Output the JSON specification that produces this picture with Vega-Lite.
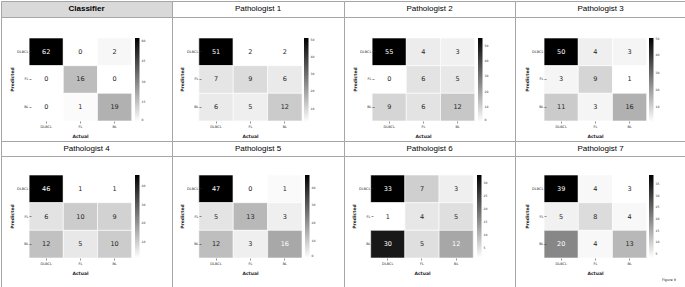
{
  "$schema": "https://vega.github.io/schema/vega-lite/v6.json",
  "padding": 0,
  "spacing": 0,
  "columns": 4,
  "bounds": "flush",
  "background": "white",
  "config": {
    "view": {"stroke": "#a6a6a6", "strokeWidth": 1},
    "concat": {"spacing": 0},
    "axis": {
      "labelFont": "DejaVu Sans", "labelFontSize": 3.5, "labelColor": "#262626",
      "titleFont": "DejaVu Sans", "titleFontSize": 4.5, "titleFontWeight": "bold", "titleColor": "#262626",
      "tickSize": 2, "tickColor": "#262626", "tickWidth": 0.5,
      "domain": false, "grid": false, "labelPadding": 1, "labelOverlap": false
    },
    "legend": {
      "orient": "none", "direction": "vertical", "gradientThickness": 4.5,
      "labelFont": "DejaVu Sans", "labelFontSize": 3, "labelColor": "#262626", "labelOffset": 2,
      "gradientStrokeWidth": 0, "labelOverlap": false
    }
  },
  "datasets": {
    "c0": [
      {"predicted": "DLBCL", "actual": "DLBCL", "count": 62}, {"predicted": "DLBCL", "actual": "FL", "count": 0}, {"predicted": "DLBCL", "actual": "BL", "count": 2},
      {"predicted": "FL", "actual": "DLBCL", "count": 0}, {"predicted": "FL", "actual": "FL", "count": 16}, {"predicted": "FL", "actual": "BL", "count": 0},
      {"predicted": "BL", "actual": "DLBCL", "count": 0}, {"predicted": "BL", "actual": "FL", "count": 1}, {"predicted": "BL", "actual": "BL", "count": 19}
    ],
    "c1": [
      {"predicted": "DLBCL", "actual": "DLBCL", "count": 51}, {"predicted": "DLBCL", "actual": "FL", "count": 2}, {"predicted": "DLBCL", "actual": "BL", "count": 2},
      {"predicted": "FL", "actual": "DLBCL", "count": 7}, {"predicted": "FL", "actual": "FL", "count": 9}, {"predicted": "FL", "actual": "BL", "count": 6},
      {"predicted": "BL", "actual": "DLBCL", "count": 6}, {"predicted": "BL", "actual": "FL", "count": 5}, {"predicted": "BL", "actual": "BL", "count": 12}
    ],
    "c2": [
      {"predicted": "DLBCL", "actual": "DLBCL", "count": 55}, {"predicted": "DLBCL", "actual": "FL", "count": 4}, {"predicted": "DLBCL", "actual": "BL", "count": 3},
      {"predicted": "FL", "actual": "DLBCL", "count": 0}, {"predicted": "FL", "actual": "FL", "count": 6}, {"predicted": "FL", "actual": "BL", "count": 5},
      {"predicted": "BL", "actual": "DLBCL", "count": 9}, {"predicted": "BL", "actual": "FL", "count": 6}, {"predicted": "BL", "actual": "BL", "count": 12}
    ],
    "c3": [
      {"predicted": "DLBCL", "actual": "DLBCL", "count": 50}, {"predicted": "DLBCL", "actual": "FL", "count": 4}, {"predicted": "DLBCL", "actual": "BL", "count": 3},
      {"predicted": "FL", "actual": "DLBCL", "count": 3}, {"predicted": "FL", "actual": "FL", "count": 9}, {"predicted": "FL", "actual": "BL", "count": 1},
      {"predicted": "BL", "actual": "DLBCL", "count": 11}, {"predicted": "BL", "actual": "FL", "count": 3}, {"predicted": "BL", "actual": "BL", "count": 16}
    ],
    "c4": [
      {"predicted": "DLBCL", "actual": "DLBCL", "count": 46}, {"predicted": "DLBCL", "actual": "FL", "count": 1}, {"predicted": "DLBCL", "actual": "BL", "count": 1},
      {"predicted": "FL", "actual": "DLBCL", "count": 6}, {"predicted": "FL", "actual": "FL", "count": 10}, {"predicted": "FL", "actual": "BL", "count": 9},
      {"predicted": "BL", "actual": "DLBCL", "count": 12}, {"predicted": "BL", "actual": "FL", "count": 5}, {"predicted": "BL", "actual": "BL", "count": 10}
    ],
    "c5": [
      {"predicted": "DLBCL", "actual": "DLBCL", "count": 47}, {"predicted": "DLBCL", "actual": "FL", "count": 0}, {"predicted": "DLBCL", "actual": "BL", "count": 1},
      {"predicted": "FL", "actual": "DLBCL", "count": 5}, {"predicted": "FL", "actual": "FL", "count": 13}, {"predicted": "FL", "actual": "BL", "count": 3},
      {"predicted": "BL", "actual": "DLBCL", "count": 12}, {"predicted": "BL", "actual": "FL", "count": 3}, {"predicted": "BL", "actual": "BL", "count": 16}
    ],
    "c6": [
      {"predicted": "DLBCL", "actual": "DLBCL", "count": 33}, {"predicted": "DLBCL", "actual": "FL", "count": 7}, {"predicted": "DLBCL", "actual": "BL", "count": 3},
      {"predicted": "FL", "actual": "DLBCL", "count": 1}, {"predicted": "FL", "actual": "FL", "count": 4}, {"predicted": "FL", "actual": "BL", "count": 5},
      {"predicted": "BL", "actual": "DLBCL", "count": 30}, {"predicted": "BL", "actual": "FL", "count": 5}, {"predicted": "BL", "actual": "BL", "count": 12}
    ],
    "c7": [
      {"predicted": "DLBCL", "actual": "DLBCL", "count": 39}, {"predicted": "DLBCL", "actual": "FL", "count": 4}, {"predicted": "DLBCL", "actual": "BL", "count": 3},
      {"predicted": "FL", "actual": "DLBCL", "count": 5}, {"predicted": "FL", "actual": "FL", "count": 8}, {"predicted": "FL", "actual": "BL", "count": 4},
      {"predicted": "BL", "actual": "DLBCL", "count": 20}, {"predicted": "BL", "actual": "FL", "count": 4}, {"predicted": "BL", "actual": "BL", "count": 13}
    ]
  },
  "concat": [
    {"width": 171, "height": 16, "data": {"values": [{"t": "Classifier"}]}, "view": {"fill": "#d9d9d9", "stroke": "#a6a6a6"},
     "mark": {"type": "text", "font": "Liberation Sans", "fontSize": 8, "fontWeight": "bold", "color": "black", "baseline": "middle"}, "encoding": {"text": {"field": "t"}}},
    {"width": 172, "height": 16, "data": {"values": [{"t": "Pathologist 1"}]}, "view": {"fill": "white", "stroke": "#a6a6a6"},
     "mark": {"type": "text", "font": "Liberation Sans", "fontSize": 8, "color": "black", "baseline": "middle"}, "encoding": {"text": {"field": "t"}}},
    {"width": 171, "height": 16, "data": {"values": [{"t": "Pathologist 2"}]}, "view": {"fill": "white", "stroke": "#a6a6a6"},
     "mark": {"type": "text", "font": "Liberation Sans", "fontSize": 8, "color": "black", "baseline": "middle"}, "encoding": {"text": {"field": "t"}}},
    {"width": 171, "height": 16, "data": {"values": [{"t": "Pathologist 3"}]}, "view": {"fill": "white", "stroke": "#a6a6a6"},
     "mark": {"type": "text", "font": "Liberation Sans", "fontSize": 8, "color": "black", "baseline": "middle"}, "encoding": {"text": {"field": "t"}}},

    {"width": 171, "height": 124, "data": {"name": "c0"}, "view": {"fill": "white"},
     "layer": [
       {"mark": {"type": "rect", "stroke": "white", "strokeWidth": 0.6},
        "encoding": {
          "x": {"field": "actual", "type": "nominal", "sort": ["DLBCL", "FL", "BL"], "scale": {"paddingInner": 0, "paddingOuter": 1.117, "align": 0.411}, "axis": {"title": "Actual", "labelAngle": 0, "offset": -20, "titlePadding": 6, "titleX": 79}},
          "y": {"field": "predicted", "type": "nominal", "sort": ["DLBCL", "FL", "BL"], "scale": {"paddingInner": 0, "paddingOuter": 0.741, "align": 0.512}, "axis": {"title": "Predicted", "offset": -30, "titlePadding": 2}},
          "color": {"field": "count", "type": "quantitative", "scale": {"domain": [0, 62], "range": ["#ffffff", "#000000"], "interpolate": "rgb"}, "legend": {"title": null, "legendX": 134, "legendY": 21, "gradientLength": 84, "values": [0, 15, 30, 45, 60]}}
        }},
       {"mark": {"type": "text", "font": "DejaVu Sans", "fontSize": 6.5, "baseline": "middle"},
        "encoding": {
          "x": {"field": "actual", "type": "nominal", "sort": ["DLBCL", "FL", "BL"]},
          "y": {"field": "predicted", "type": "nominal", "sort": ["DLBCL", "FL", "BL"]},
          "text": {"field": "count", "type": "quantitative"},
          "color": {"condition": {"test": "datum.count > 20.3", "value": "white"}, "value": "#262626"}
        }}
     ]},
    {"width": 172, "height": 124, "data": {"name": "c1"}, "view": {"fill": "white"},
     "layer": [
       {"mark": {"type": "rect", "stroke": "white", "strokeWidth": 0.6},
        "encoding": {
          "x": {"field": "actual", "type": "nominal", "sort": ["DLBCL", "FL", "BL"], "scale": {"paddingInner": 0, "paddingOuter": 1.117, "align": 0.39}, "axis": {"title": "Actual", "labelAngle": 0, "offset": -20, "titlePadding": 6, "titleX": 78}},
          "y": {"field": "predicted", "type": "nominal", "sort": ["DLBCL", "FL", "BL"], "scale": {"paddingInner": 0, "paddingOuter": 0.741, "align": 0.512}, "axis": {"title": "Predicted", "offset": -29, "titlePadding": 2}},
          "color": {"field": "count", "type": "quantitative", "scale": {"domain": [2, 51], "range": ["#ffffff", "#000000"], "interpolate": "rgb"}, "legend": {"title": null, "legendX": 132, "legendY": 21, "gradientLength": 84, "values": [10, 20, 30, 40, 50]}}
        }},
       {"mark": {"type": "text", "font": "DejaVu Sans", "fontSize": 6.5, "baseline": "middle"},
        "encoding": {
          "x": {"field": "actual", "type": "nominal", "sort": ["DLBCL", "FL", "BL"]},
          "y": {"field": "predicted", "type": "nominal", "sort": ["DLBCL", "FL", "BL"]},
          "text": {"field": "count", "type": "quantitative"},
          "color": {"condition": {"test": "datum.count > 18.05", "value": "white"}, "value": "#262626"}
        }}
     ]},
    {"width": 171, "height": 124, "data": {"name": "c2"}, "view": {"fill": "white"},
     "layer": [
       {"mark": {"type": "rect", "stroke": "white", "strokeWidth": 0.6},
        "encoding": {
          "x": {"field": "actual", "type": "nominal", "sort": ["DLBCL", "FL", "BL"], "scale": {"paddingInner": 0, "paddingOuter": 1.117, "align": 0.411}, "axis": {"title": "Actual", "labelAngle": 0, "offset": -20, "titlePadding": 6, "titleX": 79}},
          "y": {"field": "predicted", "type": "nominal", "sort": ["DLBCL", "FL", "BL"], "scale": {"paddingInner": 0, "paddingOuter": 0.741, "align": 0.512}, "axis": {"title": "Predicted", "offset": -30, "titlePadding": 2}},
          "color": {"field": "count", "type": "quantitative", "scale": {"domain": [0, 55], "range": ["#ffffff", "#000000"], "interpolate": "rgb"}, "legend": {"title": null, "legendX": 134, "legendY": 21, "gradientLength": 84, "values": [0, 10, 20, 30, 40, 50]}}
        }},
       {"mark": {"type": "text", "font": "DejaVu Sans", "fontSize": 6.5, "baseline": "middle"},
        "encoding": {
          "x": {"field": "actual", "type": "nominal", "sort": ["DLBCL", "FL", "BL"]},
          "y": {"field": "predicted", "type": "nominal", "sort": ["DLBCL", "FL", "BL"]},
          "text": {"field": "count", "type": "quantitative"},
          "color": {"condition": {"test": "datum.count > 18.0", "value": "white"}, "value": "#262626"}
        }}
     ]},
    {"width": 171, "height": 124, "data": {"name": "c3"}, "view": {"fill": "white"},
     "layer": [
       {"mark": {"type": "rect", "stroke": "white", "strokeWidth": 0.6},
        "encoding": {
          "x": {"field": "actual", "type": "nominal", "sort": ["DLBCL", "FL", "BL"], "scale": {"paddingInner": 0, "paddingOuter": 1.117, "align": 0.425}, "axis": {"title": "Actual", "labelAngle": 0, "offset": -20, "titlePadding": 6, "titleX": 80}},
          "y": {"field": "predicted", "type": "nominal", "sort": ["DLBCL", "FL", "BL"], "scale": {"paddingInner": 0, "paddingOuter": 0.741, "align": 0.512}, "axis": {"title": "Predicted", "offset": -31, "titlePadding": 2}},
          "color": {"field": "count", "type": "quantitative", "scale": {"domain": [1, 50], "range": ["#ffffff", "#000000"], "interpolate": "rgb"}, "legend": {"title": null, "legendX": 134, "legendY": 21, "gradientLength": 84, "values": [10, 20, 30, 40, 50]}}
        }},
       {"mark": {"type": "text", "font": "DejaVu Sans", "fontSize": 6.5, "baseline": "middle"},
        "encoding": {
          "x": {"field": "actual", "type": "nominal", "sort": ["DLBCL", "FL", "BL"]},
          "y": {"field": "predicted", "type": "nominal", "sort": ["DLBCL", "FL", "BL"]},
          "text": {"field": "count", "type": "quantitative"},
          "color": {"condition": {"test": "datum.count > 17.05", "value": "white"}, "value": "#262626"}
        }}
     ]},

    {"width": 171, "height": 15, "data": {"values": [{"t": "Pathologist 4"}]}, "view": {"fill": "white", "stroke": "#a6a6a6"},
     "mark": {"type": "text", "font": "Liberation Sans", "fontSize": 8, "color": "black", "baseline": "middle"}, "encoding": {"text": {"field": "t"}}},
    {"width": 172, "height": 15, "data": {"values": [{"t": "Pathologist 5"}]}, "view": {"fill": "white", "stroke": "#a6a6a6"},
     "mark": {"type": "text", "font": "Liberation Sans", "fontSize": 8, "color": "black", "baseline": "middle"}, "encoding": {"text": {"field": "t"}}},
    {"width": 171, "height": 15, "data": {"values": [{"t": "Pathologist 6"}]}, "view": {"fill": "white", "stroke": "#a6a6a6"},
     "mark": {"type": "text", "font": "Liberation Sans", "fontSize": 8, "color": "black", "baseline": "middle"}, "encoding": {"text": {"field": "t"}}},
    {"width": 171, "height": 15, "data": {"values": [{"t": "Pathologist 7"}]}, "view": {"fill": "white", "stroke": "#a6a6a6"},
     "mark": {"type": "text", "font": "Liberation Sans", "fontSize": 8, "color": "black", "baseline": "middle"}, "encoding": {"text": {"field": "t"}}},

    {"width": 171, "height": 132, "data": {"name": "c4"}, "view": {"fill": "white"},
     "layer": [
       {"mark": {"type": "rect", "stroke": "white", "strokeWidth": 0.6},
        "encoding": {
          "x": {"field": "actual", "type": "nominal", "sort": ["DLBCL", "FL", "BL"], "scale": {"paddingInner": 0, "paddingOuter": 1.117, "align": 0.411}, "axis": {"title": "Actual", "labelAngle": 0, "offset": -30, "titlePadding": 6, "titleX": 79}},
          "y": {"field": "predicted", "type": "nominal", "sort": ["DLBCL", "FL", "BL"], "scale": {"paddingInner": 0, "paddingOuter": 0.885, "align": 0.388}, "axis": {"title": "Predicted", "offset": -30, "titlePadding": 2, "titleY": 60}},
          "color": {"field": "count", "type": "quantitative", "scale": {"domain": [1, 46], "range": ["#ffffff", "#000000"], "interpolate": "rgb"}, "legend": {"title": null, "legendX": 134, "legendY": 19, "gradientLength": 83, "values": [10, 20, 30, 40]}}
        }},
       {"mark": {"type": "text", "font": "DejaVu Sans", "fontSize": 6.5, "baseline": "middle"},
        "encoding": {
          "x": {"field": "actual", "type": "nominal", "sort": ["DLBCL", "FL", "BL"]},
          "y": {"field": "predicted", "type": "nominal", "sort": ["DLBCL", "FL", "BL"]},
          "text": {"field": "count", "type": "quantitative"},
          "color": {"condition": {"test": "datum.count > 15.7", "value": "white"}, "value": "#262626"}
        }}
     ]},
    {"width": 172, "height": 132, "data": {"name": "c5"}, "view": {"fill": "white"},
     "layer": [
       {"mark": {"type": "rect", "stroke": "white", "strokeWidth": 0.6},
        "encoding": {
          "x": {"field": "actual", "type": "nominal", "sort": ["DLBCL", "FL", "BL"], "scale": {"paddingInner": 0, "paddingOuter": 1.117, "align": 0.39}, "axis": {"title": "Actual", "labelAngle": 0, "offset": -30, "titlePadding": 6, "titleX": 78}},
          "y": {"field": "predicted", "type": "nominal", "sort": ["DLBCL", "FL", "BL"], "scale": {"paddingInner": 0, "paddingOuter": 0.885, "align": 0.388}, "axis": {"title": "Predicted", "offset": -29, "titlePadding": 2, "titleY": 60}},
          "color": {"field": "count", "type": "quantitative", "scale": {"domain": [0, 47], "range": ["#ffffff", "#000000"], "interpolate": "rgb"}, "legend": {"title": null, "legendX": 133, "legendY": 19, "gradientLength": 83, "values": [0, 10, 20, 30, 40]}}
        }},
       {"mark": {"type": "text", "font": "DejaVu Sans", "fontSize": 6.5, "baseline": "middle"},
        "encoding": {
          "x": {"field": "actual", "type": "nominal", "sort": ["DLBCL", "FL", "BL"]},
          "y": {"field": "predicted", "type": "nominal", "sort": ["DLBCL", "FL", "BL"]},
          "text": {"field": "count", "type": "quantitative"},
          "color": {"condition": {"test": "datum.count > 15.4", "value": "white"}, "value": "#262626"}
        }}
     ]},
    {"width": 171, "height": 132, "data": {"name": "c6"}, "view": {"fill": "white"},
     "layer": [
       {"mark": {"type": "rect", "stroke": "white", "strokeWidth": 0.6},
        "encoding": {
          "x": {"field": "actual", "type": "nominal", "sort": ["DLBCL", "FL", "BL"], "scale": {"paddingInner": 0, "paddingOuter": 1.117, "align": 0.39}, "axis": {"title": "Actual", "labelAngle": 0, "offset": -30, "titlePadding": 6, "titleX": 78}},
          "y": {"field": "predicted", "type": "nominal", "sort": ["DLBCL", "FL", "BL"], "scale": {"paddingInner": 0, "paddingOuter": 0.885, "align": 0.388}, "axis": {"title": "Predicted", "offset": -29, "titlePadding": 2, "titleY": 60}},
          "color": {"field": "count", "type": "quantitative", "scale": {"domain": [1, 33], "range": ["#ffffff", "#000000"], "interpolate": "rgb"}, "legend": {"title": null, "legendX": 133, "legendY": 19, "gradientLength": 83, "values": [5, 10, 15, 20, 25, 30]}}
        }},
       {"mark": {"type": "text", "font": "DejaVu Sans", "fontSize": 6.5, "baseline": "middle"},
        "encoding": {
          "x": {"field": "actual", "type": "nominal", "sort": ["DLBCL", "FL", "BL"]},
          "y": {"field": "predicted", "type": "nominal", "sort": ["DLBCL", "FL", "BL"]},
          "text": {"field": "count", "type": "quantitative"},
          "color": {"condition": {"test": "datum.count > 11.5", "value": "white"}, "value": "#262626"}
        }}
     ]},
    {"width": 171, "height": 132, "data": {"name": "c7"}, "view": {"fill": "white"},
     "title": {"text": "Figure 9", "orient": "bottom", "anchor": "end", "offset": -10, "dx": -10, "font": "DejaVu Sans", "fontSize": 3.5, "fontWeight": "normal", "color": "#262626"},
     "layer": [
       {"mark": {"type": "rect", "stroke": "white", "strokeWidth": 0.6},
        "encoding": {
          "x": {"field": "actual", "type": "nominal", "sort": ["DLBCL", "FL", "BL"], "scale": {"paddingInner": 0, "paddingOuter": 1.117, "align": 0.425}, "axis": {"title": "Actual", "labelAngle": 0, "offset": -30, "titlePadding": 6, "titleX": 80}},
          "y": {"field": "predicted", "type": "nominal", "sort": ["DLBCL", "FL", "BL"], "scale": {"paddingInner": 0, "paddingOuter": 0.885, "align": 0.388}, "axis": {"title": "Predicted", "offset": -31, "titlePadding": 2, "titleY": 60}},
          "color": {"field": "count", "type": "quantitative", "scale": {"domain": [3, 39], "range": ["#ffffff", "#000000"], "interpolate": "rgb"}, "legend": {"title": null, "legendX": 134, "legendY": 19, "gradientLength": 83, "values": [5, 10, 15, 20, 25, 30, 35]}}
        }},
       {"mark": {"type": "text", "font": "DejaVu Sans", "fontSize": 6.5, "baseline": "middle"},
        "encoding": {
          "x": {"field": "actual", "type": "nominal", "sort": ["DLBCL", "FL", "BL"]},
          "y": {"field": "predicted", "type": "nominal", "sort": ["DLBCL", "FL", "BL"]},
          "text": {"field": "count", "type": "quantitative"},
          "color": {"condition": {"test": "datum.count > 14.8", "value": "white"}, "value": "#262626"}
        }}
     ]}
  ],
  "resolve": {"scale": {"color": "independent", "x": "independent", "y": "independent"}, "legend": {"color": "independent"}}
}
